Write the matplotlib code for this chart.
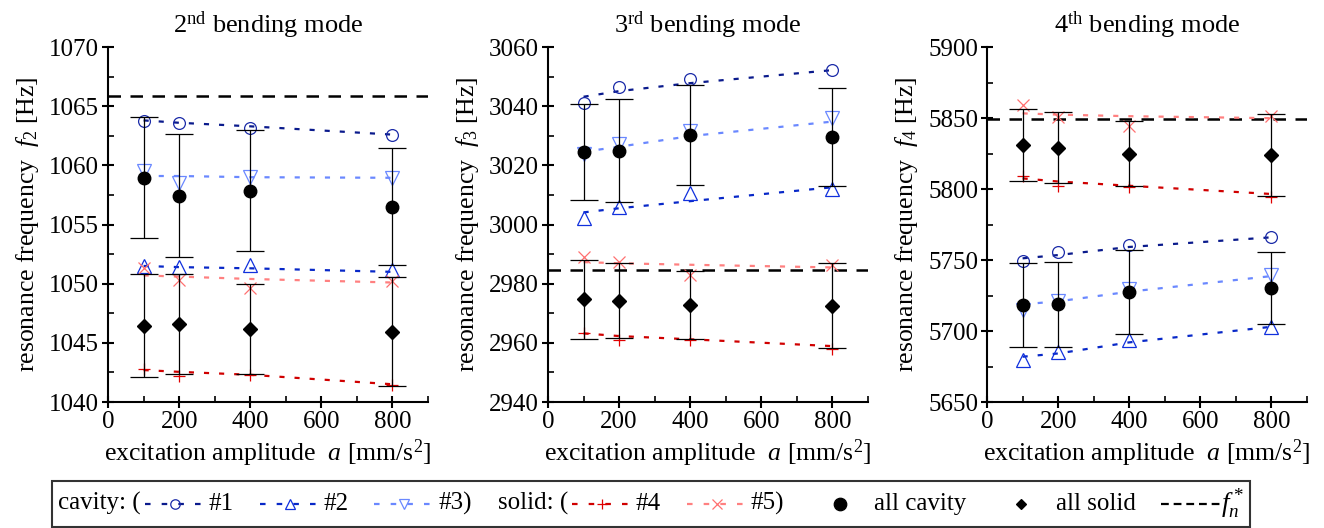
import matplotlib
matplotlib.use('Agg')
import matplotlib.pyplot as plt
from matplotlib.lines import Line2D
from matplotlib.offsetbox import AnchoredOffsetbox, DrawingArea, HPacker, TextArea
from matplotlib.ticker import MultipleLocator

plt.rcParams['font.family'] = ['Liberation Serif', 'DejaVu Serif']
plt.rcParams['mathtext.fontset'] = 'custom'
plt.rcParams['mathtext.rm'] = 'Liberation Serif'
plt.rcParams['mathtext.it'] = 'Liberation Serif:italic'
plt.rcParams['mathtext.bf'] = 'Liberation Serif:bold'

amplitude = [100, 200, 400, 800]

# 2nd bending mode [Hz]
f2_c1 = [1063.75, 1063.6, 1063.2, 1062.6]
f2_c2 = [1051.5, 1051.45, 1051.55, 1051.15]
f2_c3 = [1059.55, 1058.5, 1059.05, 1058.95]
f2_s4 = [1042.8, 1042.2, 1042.3, 1041.4]
f2_s5 = [1051.3, 1050.3, 1049.6, 1050.25]
f2_c1_fit = [1063.8, 1063.6, 1063.3, 1062.6]
f2_c2_fit = [1051.5, 1051.4, 1051.3, 1051.0]
f2_c3_fit = [1059.1, 1059.1, 1059.0, 1058.95]
f2_s4_fit = [1042.7, 1042.55, 1042.3, 1041.5]
f2_s5_fit = [1050.7, 1050.6, 1050.4, 1050.1]
f2_cav_mean = [1058.95, 1057.45, 1057.85, 1056.5]
f2_cav_std = [5.1, 5.2, 5.1, 4.95]
f2_sol_mean = [1046.45, 1046.6, 1046.2, 1045.95]
f2_sol_std = [4.35, 4.25, 3.8, 4.6]
f2_ref = 1065.9

# 3rd bending mode [Hz]
f3_c1 = [3041.0, 3046.4, 3049.1, 3052.2]
f3_c2 = [3002.3, 3005.8, 3010.7, 3011.9]
f3_c3 = [3023.8, 3027.2, 3031.7, 3035.9]
f3_s4 = [2963.4, 2960.9, 2960.9, 2957.9]
f3_s5 = [2989.1, 2987.4, 2982.9, 2986.3]
f3_c1_fit = [3043.2, 3045.1, 3047.8, 3052.2]
f3_c2_fit = [3004.1, 3005.5, 3007.9, 3012.6]
f3_c3_fit = [3024.6, 3026.3, 3029.9, 3034.8]
f3_s4_fit = [2963.2, 2962.3, 2961.2, 2958.9]
f3_s5_fit = [2987.3, 2986.9, 2986.4, 2985.5]
f3_cav_mean = [3024.5, 3025.0, 3030.2, 3029.7]
f3_cav_std = [16.2, 17.3, 16.9, 16.6]
f3_sol_mean = [2974.7, 2974.3, 2972.8, 2972.6]
f3_sol_std = [13.25, 12.8, 11.55, 14.4]
f3_ref = 2984.6

# 4th bending mode [Hz]
f4_c1 = [5749.5, 5755.4, 5760.6, 5766.0]
f4_c2 = [5679.6, 5685.4, 5693.7, 5703.0]
f4_c3 = [5714.8, 5721.3, 5729.4, 5739.4]
f4_s4 = [5809.4, 5802.1, 5801.6, 5794.2]
f4_s5 = [5859.2, 5850.9, 5844.4, 5851.6]
f4_c1_fit = [5751.2, 5753.5, 5759.2, 5766.0]
f4_c2_fit = [5681.9, 5684.2, 5692.0, 5703.0]
f4_c3_fit = [5718.8, 5720.9, 5727.7, 5738.7]
f4_s4_fit = [5807.5, 5805.3, 5802.3, 5796.5]
f4_s5_fit = [5853.3, 5852.4, 5851.3, 5849.9]
f4_cav_mean = [5718.5, 5718.7, 5727.5, 5730.2]
f4_cav_std = [29.6, 29.7, 29.6, 25.6]
f4_sol_mean = [5830.8, 5829.0, 5825.0, 5823.8]
f4_sol_std = [25.25, 25.0, 22.8, 28.75]
f4_ref = 5849.3

modes = [
    dict(title=r'2$^{\mathrm{nd}}$ bending mode', sym='f_2', ylim=(1040, 1070), major=5,
         series=[f2_c1, f2_c2, f2_c3, f2_s4, f2_s5],
         fits=[f2_c1_fit, f2_c2_fit, f2_c3_fit, f2_s4_fit, f2_s5_fit],
         cav=(f2_cav_mean, f2_cav_std), sol=(f2_sol_mean, f2_sol_std), ref=f2_ref),
    dict(title=r'3$^{\mathrm{rd}}$ bending mode', sym='f_3', ylim=(2940, 3060), major=20,
         series=[f3_c1, f3_c2, f3_c3, f3_s4, f3_s5],
         fits=[f3_c1_fit, f3_c2_fit, f3_c3_fit, f3_s4_fit, f3_s5_fit],
         cav=(f3_cav_mean, f3_cav_std), sol=(f3_sol_mean, f3_sol_std), ref=f3_ref),
    dict(title=r'4$^{\mathrm{th}}$ bending mode', sym='f_4', ylim=(5650, 5900), major=50,
         series=[f4_c1, f4_c2, f4_c3, f4_s4, f4_s5],
         fits=[f4_c1_fit, f4_c2_fit, f4_c3_fit, f4_s4_fit, f4_s5_fit],
         cav=(f4_cav_mean, f4_cav_std), sol=(f4_sol_mean, f4_sol_std), ref=f4_ref),
]

# specimen styles: (marker, marker colour, line colour, marker size)
styles = [
    ('o', '#1a2aa8', '#0a1a8c', 8.5),
    ('^', '#1030dd', '#0828c8', 9.5),
    ('v', '#6a88ff', '#6a88ff', 9.5),
    ('+', '#e00000', '#d00000', 9),
    ('x', '#ff7070', '#ff8080', 8.5),
]
fit_ls = (0, (2.3, 4.5))
ref_ls = (0, (5, 3.8))
FS_TICK = 18
FS_LABEL = 18.5
FS_TITLE = 19
FS_LEG = 18

fig = plt.figure(figsize=(13.24, 5.28), dpi=100)
lefts = [0.0816, 0.4139, 0.7455]

for left, m in zip(lefts, modes):
    ax = fig.add_axes([left, 0.2386, 0.2417, 0.6723])
    ax.axhline(m['ref'], color='black', ls=ref_ls, lw=1.8, zorder=1)
    for vals, fit, (mk, mc, lc, ms) in zip(m['series'], m['fits'], styles):
        ax.plot(amplitude, fit, color=lc, ls=fit_ls, lw=1.6, zorder=2)
        ax.plot(amplitude, vals, ls='none', marker=mk, ms=ms, mfc='none',
                mec=mc, mew=0.9, zorder=3)
    ax.errorbar(amplitude, m['cav'][0], yerr=m['cav'][1], fmt='o', color='black',
                ms=9, capsize=10, elinewidth=0.9, capthick=0.9, zorder=4)
    ax.errorbar(amplitude, m['sol'][0], yerr=m['sol'][1], fmt='D', color='black',
                ms=7.3, capsize=10, elinewidth=0.9, capthick=0.9, zorder=4)

    ax.set_xlim(0, 900)
    ax.set_ylim(*m['ylim'])
    ax.xaxis.set_major_locator(MultipleLocator(200))
    ax.xaxis.set_minor_locator(MultipleLocator(100))
    ax.yaxis.set_major_locator(MultipleLocator(m['major']))
    ax.yaxis.set_minor_locator(MultipleLocator(m['major'] / 2))
    for side in ('top', 'right'):
        ax.spines[side].set_visible(False)
    for side in ('left', 'bottom'):
        ax.spines[side].set_linewidth(1.5)
    ax.tick_params(which='major', direction='inout', length=9, width=1.5,
                   labelsize=FS_TICK, pad=2)
    ax.tick_params(which='minor', direction='in', length=4, width=1.2)
    ax.set_title(m['title'], fontsize=FS_TITLE, pad=10)
    ax.set_xlabel(r'excitation amplitude  $a$ [mm/s$^2$]', fontsize=FS_LABEL,
                  labelpad=3)
    ax.set_ylabel(r'resonance frequency  $%s$ [Hz]' % m['sym'], fontsize=FS_LABEL,
                  labelpad=6)


# shared legend strip along the bottom edge
HW = 43
leg_ls = (0, (2.5, 5))


def handle(marker=None, mc='black', lc=None, ms=7, ls=leg_ls, filled=False):
    da = DrawingArea(HW, 10, 0, 0)
    if lc is not None:
        da.add_artist(Line2D([0, HW], [5, 5], color=lc, ls=ls, lw=1.6))
    if marker is not None:
        da.add_artist(Line2D([HW / 2], [5], ls='none', marker=marker, ms=ms,
                             mfc=mc if filled else 'none', mec=mc, mew=0.9))
    return da


def text(s, size=FS_LEG):
    return TextArea(s, textprops=dict(fontsize=size))


def entry(*children, sep=3):
    return HPacker(children=list(children), align='center', pad=0, sep=sep)


hs = [handle(mk, mc, lc, ms * 0.8) for mk, mc, lc, ms in styles]
entries = [
    entry(text('cavity: ('), hs[0], text('#1')),
    entry(hs[1], text('#2')),
    entry(hs[2], text('#3)')),
    entry(text('solid: ('), hs[3], text('#4')),
    entry(hs[4], text('#5)')),
    entry(handle('o', ms=9, filled=True), text('all cavity')),
    entry(handle('D', ms=5.5, filled=True), text('all solid')),
    entry(handle(lc='black', ls=(0, (3.5, 2.2)), ms=0), text(r'$f_n^*$', 19.5), sep=0),
]
strip = HPacker(children=entries, align='center', pad=0, sep=18.5)
box = AnchoredOffsetbox(loc='upper left', child=strip, pad=0.45, borderpad=0,
                        frameon=True, bbox_to_anchor=(0.0393, 0.089),
                        bbox_transform=fig.transFigure)
box.patch.set_edgecolor('#333333')
box.patch.set_linewidth(1.5)
fig.add_artist(box)

fig.savefig('out.png', dpi=100)
